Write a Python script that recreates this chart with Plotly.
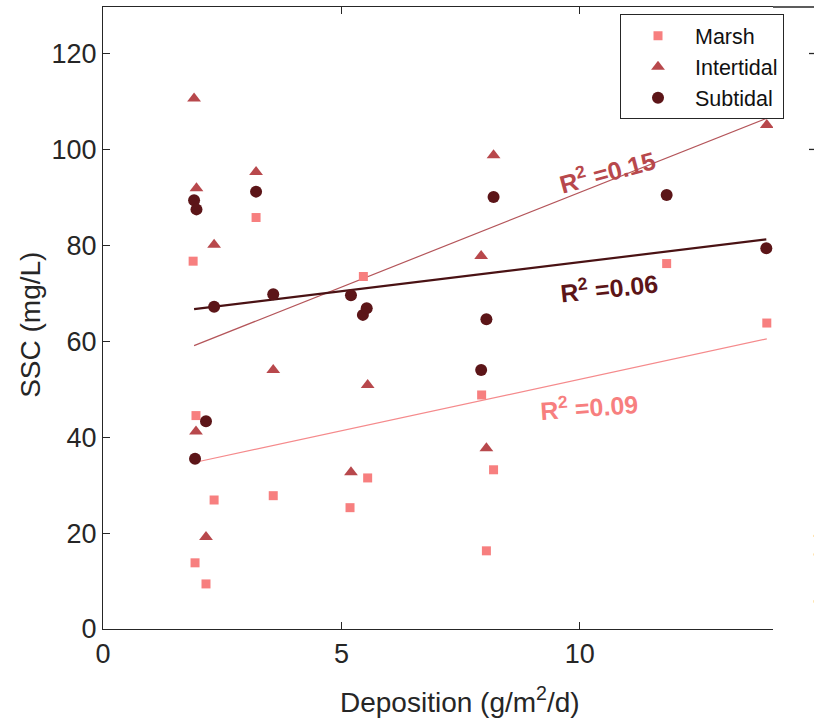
import plotly.graph_objects as go
import numpy as np

# ---------------- data ----------------
marsh_x = [1.89, 1.95, 1.93, 2.16, 2.33, 3.21, 3.57, 5.18, 5.46, 5.55, 7.94, 8.04, 8.19, 11.82, 13.92]
marsh_y = [76.7, 44.5, 13.8, 9.4, 26.9, 85.8, 27.8, 25.3, 73.5, 31.5, 48.8, 16.3, 33.2, 76.2, 63.8]

inter_x = [1.91, 1.96, 1.95, 2.16, 2.33, 3.21, 3.57, 5.20, 5.55, 7.93, 8.04, 8.19, 13.92]
inter_y = [110.6, 91.9, 41.2, 19.2, 80.1, 95.3, 54.0, 32.7, 50.9, 77.8, 37.7, 98.8, 105.1]

sub_x = [1.91, 1.96, 1.93, 2.16, 2.33, 3.21, 3.57, 5.20, 5.45, 5.53, 7.93, 8.04, 8.19, 11.82, 13.91]
sub_y = [89.4, 87.5, 35.5, 43.3, 67.2, 91.2, 69.8, 69.6, 65.5, 66.9, 54.0, 64.6, 90.1, 90.5, 79.4]

# linear fits (slope, intercept) and R^2 as shown
fit_slope = {"Marsh": 2.148, "Intertidal": 3.947, "Subtidal": 1.211}
fit_intercept = {"Marsh": 30.6, "Intertidal": 51.56, "Subtidal": 64.39}
r2_values = {"Marsh": "0.09", "Intertidal": "0.15", "Subtidal": "0.06"}
r2_pos = {"Marsh": (10.19, 46.6, -4), "Intertidal": (10.57, 95.6, -15), "Subtidal": (10.61, 71.4, -6)}

x_ticks = [0, 5, 10]
y_ticks = [0, 20, 40, 60, 80, 100, 120]
x_title = "Deposition (g/m<sup>2</sup>/d)"
y_title = "SSC (mg/L)"

# ---------------- styles ----------------
col = {"Marsh": "#F77F7F", "Intertidal": "#B8484C", "Subtidal": "#5C1518"}
line_col = {"Marsh": "#F58A8C", "Intertidal": "#B4555A", "Subtidal": "#4A1214"}
line_w = {"Marsh": 1.2, "Intertidal": 1.2, "Subtidal": 2.2}
sym = {"Marsh": "square", "Intertidal": "triangle-up", "Subtidal": "circle"}
msize = {"Marsh": 9, "Intertidal": 12, "Subtidal": 12}
FONT = "Liberation Sans, Arial, Helvetica, sans-serif"
AX = "#262626"

groups = {"Marsh": (marsh_x, marsh_y), "Intertidal": (inter_x, inter_y), "Subtidal": (sub_x, sub_y)}

fig = go.Figure()

# fit lines (drawn under markers)
for name, (xs, ys) in groups.items():
    xl = np.array([min(xs), max(xs)])
    yl = fit_slope[name] * xl + fit_intercept[name]
    fig.add_trace(go.Scatter(x=xl, y=yl, mode="lines", showlegend=False,
                             line=dict(color=line_col[name], width=line_w[name]),
                             hoverinfo="skip"))

for name, (xs, ys) in groups.items():
    fig.add_trace(go.Scatter(x=xs, y=ys, mode="markers", name=name,
                             marker=dict(symbol=sym[name], size=msize[name], color=col[name],
                                         line=dict(width=0))))

for name in groups:
    x, y, ang = r2_pos[name]
    fig.add_annotation(x=x, y=y, xref="x", yref="y", showarrow=False,
                       text="R<sup>2</sup> =" + r2_values[name], textangle=ang,
                       font=dict(family=FONT, size=25, color=col[name], weight="bold"))

x0p, x1p = 103.3, 773.0   # plot area pixel edges
def px_to_paper_x(p):
    return (p - x0p) / (x1p - x0p)
y0p, y1p = 6.7, 629.0
def px_to_paper_y(p):
    return (y1p - p) / (y1p - y0p)

# axis titles
fig.add_annotation(x=px_to_paper_x(460), y=px_to_paper_y(700), xref="paper", yref="paper",
                   xanchor="center", yanchor="middle", showarrow=False, text=x_title,
                   font=dict(family=FONT, size=28, color=AX))
fig.add_annotation(x=px_to_paper_x(30), y=px_to_paper_y(325), xref="paper", yref="paper",
                   xanchor="center", yanchor="middle", showarrow=False, text=y_title, textangle=-90,
                   font=dict(family=FONT, size=28, color=AX))

# top border extending to the edge of the image
fig.add_shape(type="line", xref="paper", yref="paper", x0=1, x1=px_to_paper_x(815), y0=1, y1=1,
              line=dict(color=AX, width=1.3))
# fragments of neighbouring panel: ticks and cut-off label
for yv in [120, 100]:
    fig.add_shape(type="line", xref="paper", yref="y", x0=px_to_paper_x(809), x1=px_to_paper_x(815),
                  y0=yv, y1=yv, line=dict(color=AX, width=1.3))
fig.add_annotation(x=px_to_paper_x(806), y=px_to_paper_y(602), xref="paper", yref="paper",
                   xanchor="left", yanchor="middle", showarrow=False, textangle=-90,
                   text=y_title, font=dict(family=FONT, size=28, color=AX))

fig.update_layout(
    width=814, height=722,
    margin=dict(l=103.3, r=814 - 773, t=6.7, b=722 - 629, pad=0),
    paper_bgcolor="white", plot_bgcolor="white",
    font=dict(family=FONT, color=AX),
    showlegend=True,
    legend=dict(x=px_to_paper_x(784), xanchor="right", y=px_to_paper_y(14), yanchor="top",
                bordercolor=AX, borderwidth=1, bgcolor="rgba(255,255,255,0.85)",
                font=dict(family=FONT, size=21.5, color="#111111"),
                itemwidth=64, tracegroupgap=0),
    xaxis=dict(range=[0, 14.05], tickvals=x_ticks, ticks="inside", ticklen=7, tickwidth=1.3,
               tickcolor=AX, showline=True, linecolor=AX, linewidth=1.3, mirror="ticks",
               showgrid=False, zeroline=False, tickfont=dict(size=27, color=AX)),
    yaxis=dict(range=[0, 129.7], tickvals=y_ticks, ticks="inside", ticklen=7, tickwidth=1.3,
               tickcolor=AX, showline=True, linecolor=AX, linewidth=1.3, mirror=False,
               showgrid=False, zeroline=False, tickfont=dict(size=27, color=AX),
               ticklabelstandoff=0),
)

fig.write_html("out.html")
